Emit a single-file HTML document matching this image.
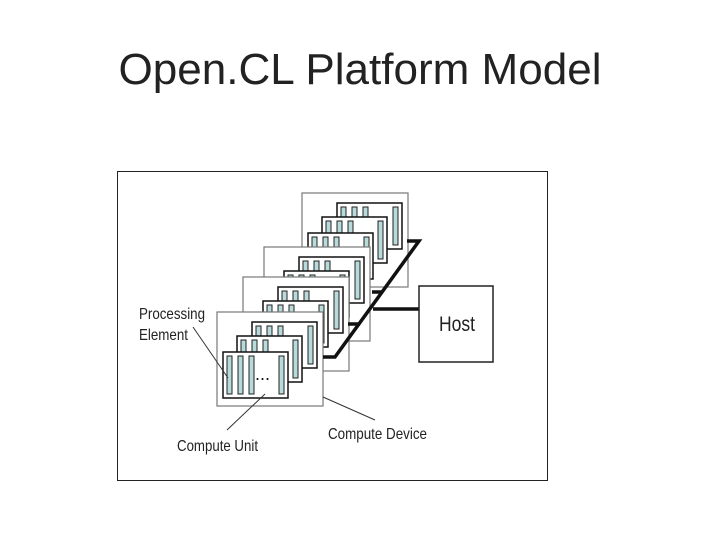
<!DOCTYPE html>
<html><head><meta charset="utf-8"><style>
html,body{margin:0;padding:0;background:#fff;width:720px;height:540px;overflow:hidden}
</style></head><body>
<svg width="720" height="540" xmlns="http://www.w3.org/2000/svg" font-family="Liberation Sans, Arial, sans-serif">
<defs>
<g id="cu">
<rect x="0" y="0" width="65" height="46" fill="#fff" stroke="#111" stroke-width="1.5"/>
<rect x="4" y="4" width="5" height="38" fill="#b8dada" stroke="#222" stroke-width="1"/>
<rect x="15" y="4" width="5" height="38" fill="#b8dada" stroke="#222" stroke-width="1"/>
<rect x="26" y="4" width="5" height="38" fill="#b8dada" stroke="#222" stroke-width="1"/>
<rect x="56" y="4" width="5" height="38" fill="#b8dada" stroke="#222" stroke-width="1"/>
</g>
<g id="dev">
<rect x="0" y="0" width="106" height="94" fill="#fff" stroke="#777" stroke-width="1.2"/>
<use href="#cu" x="35" y="10"/>
<use href="#cu" x="20" y="24"/>
<use href="#cu" x="6" y="40"/>
</g>
</defs>
<text x="360" y="84" font-size="44" text-anchor="middle" textLength="483" lengthAdjust="spacingAndGlyphs" fill="#222">Open.CL Platform Model</text>
<rect x="117.5" y="171.5" width="430" height="309" fill="#fff" stroke="#222" stroke-width="1"/>
<use href="#dev" x="302" y="193"/>
<use href="#dev" x="264" y="247"/>
<use href="#dev" x="243" y="277"/>
<use href="#dev" x="217" y="312"/>
<text x="255" y="380" font-size="18" fill="#111">...</text>
<g stroke="#111" stroke-width="3.5" fill="none">
<polyline points="407,241 419,241 335,357 323,357"/>
<line x1="372" y1="292" x2="383" y2="292"/>
<line x1="348" y1="324" x2="360" y2="324"/>
<line x1="373" y1="309" x2="419" y2="309"/>
</g>
<rect x="419" y="286" width="74" height="76" fill="#fff" stroke="#222" stroke-width="1.5"/>
<text x="457" y="331" font-size="21" text-anchor="middle" textLength="36" lengthAdjust="spacingAndGlyphs" fill="#222">Host</text>
<g stroke="#333" stroke-width="1">
<line x1="193" y1="327" x2="228" y2="378"/>
<line x1="227" y1="430" x2="265" y2="394"/>
<line x1="323" y1="397" x2="375" y2="420"/>
</g>
<g font-size="16" fill="#222">
<text x="139" y="319" textLength="66" lengthAdjust="spacingAndGlyphs">Processing</text>
<text x="139" y="340" textLength="49" lengthAdjust="spacingAndGlyphs">Element</text>
<text x="177" y="451" textLength="81" lengthAdjust="spacingAndGlyphs">Compute Unit</text>
<text x="328" y="439" textLength="99" lengthAdjust="spacingAndGlyphs">Compute Device</text>
</g>
</svg>
</body></html>
